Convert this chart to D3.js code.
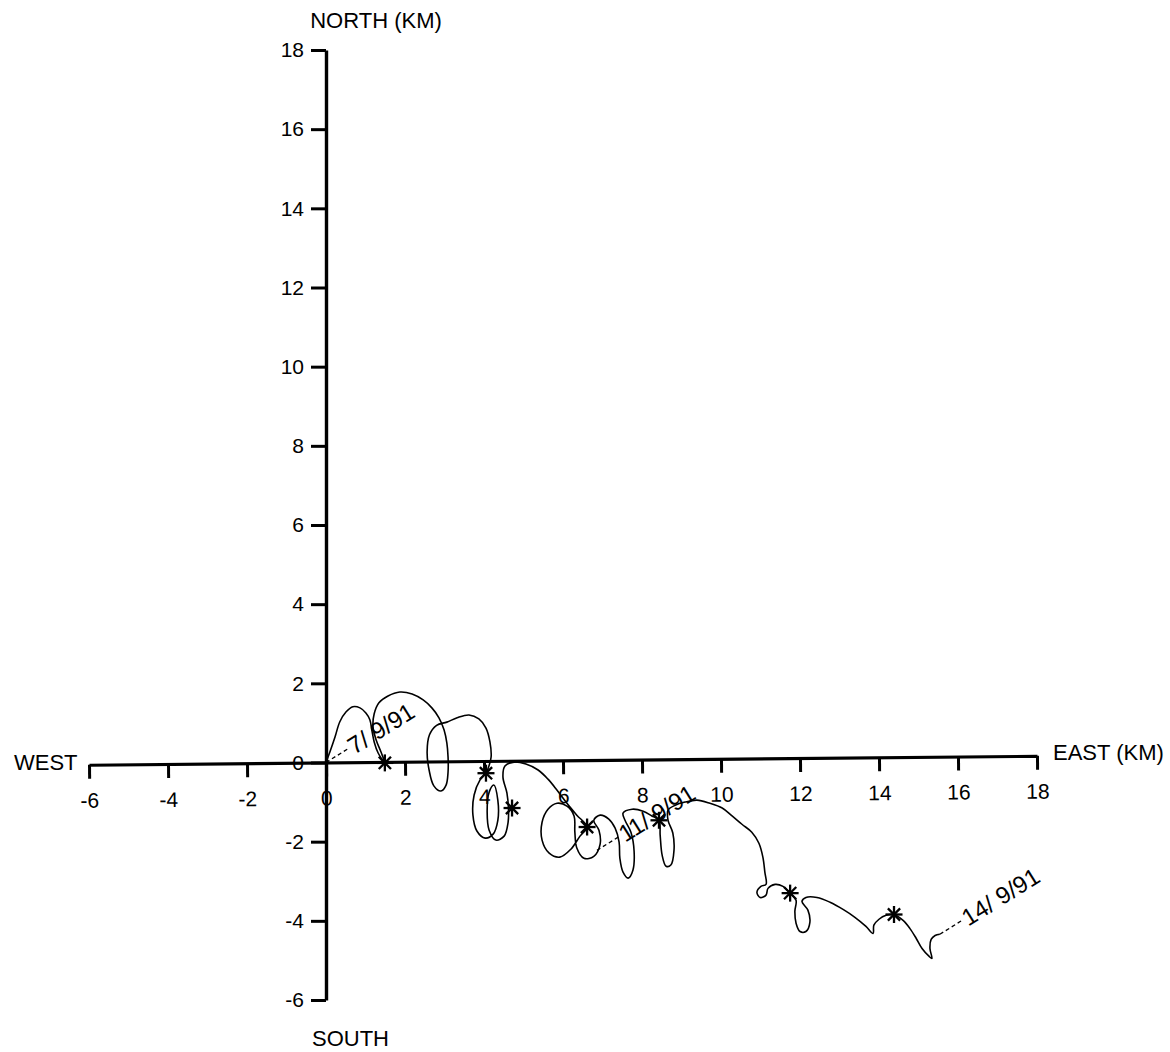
<!DOCTYPE html>
<html>
<head>
<meta charset="utf-8">
<script src="https://cdn.jsdelivr.net/npm/d3@7"></script>
<style>
  html, body { margin: 0; padding: 0; background: #fff; }
  svg { display: block; }
  text { font-family: "Liberation Sans", Arial, Helvetica, sans-serif; fill: #000; }
</style>
</head>
<body>
<svg id="chart" width="1170" height="1052"></svg>
<script>
// ---- data (km) ----
const xTicks = [-6, -4, -2, 0, 2, 4, 6, 8, 10, 12, 14, 16, 18];
const yTicks = [-6, -4, -2, 0, 2, 4, 6, 8, 10, 12, 14, 16, 18];

// drift track east (km) / north (km)
const trackEast = [
  0, 0.10, 0.23, 0.35, 0.51, 0.68, 0.86, 1.01, 1.11, 1.16, 1.22, 1.32, 1.49,
  1.39, 1.27, 1.19, 1.22, 1.34, 1.57, 1.87, 2.18, 2.46, 2.68, 2.86, 2.99, 3.06, 3.09, 3.09, 3.04, 2.91,
  2.73, 2.61, 2.56, 2.62, 2.80, 3.06, 3.32, 3.62, 3.87, 4.05, 4.15, 4.18, 4.10, 4.05,
  3.90, 3.75, 3.72, 3.82, 4.03, 4.23, 4.35, 4.35, 4.25, 4.13, 4.08, 4.13, 4.30, 4.51, 4.61, 4.62,
  4.58, 4.48, 4.53, 4.76, 5.06, 5.37, 5.62, 5.85, 6.10, 6.35, 6.61,
  6.43, 6.20, 5.92, 5.65, 5.47, 5.47, 5.62, 5.85, 6.10, 6.28, 6.30, 6.35, 6.53, 6.78, 6.94, 6.91, 6.78,
  6.94, 7.16, 7.32, 7.42, 7.44, 7.52, 7.65, 7.77, 7.80, 7.72, 7.57, 7.52, 7.75, 8.03, 8.25, 8.43,
  8.46, 8.51, 8.61, 8.73, 8.81, 8.78, 8.66, 8.66, 8.84, 9.09, 9.39, 9.72, 10.03, 10.28, 10.53, 10.78,
  10.96, 11.06, 11.11, 11.14, 11.01, 10.91, 10.99, 11.14, 11.19, 11.37, 11.57, 11.75,
  11.90, 11.87, 11.90, 12.00, 12.15, 12.25, 12.20, 12.05, 12.15, 12.43, 12.76, 13.09, 13.39, 13.67, 13.85,
  13.87, 14.00, 14.18, 14.38, 14.61, 14.78, 14.94, 15.09, 15.27, 15.34, 15.29, 15.32, 15.42, 15.54
];
const trackNorth = [
  0, 0.27, 0.65, 1.03, 1.28, 1.41, 1.38, 1.25, 1.08, 0.82, 0.52, 0.24, -0.01,
  0.27, 0.57, 0.90, 1.23, 1.51, 1.68, 1.78, 1.73, 1.58, 1.38, 1.13, 0.82, 0.49, 0.14, -0.24, -0.57, -0.72,
  -0.59, -0.19, 0.27, 0.70, 0.94, 1.02, 1.13, 1.20, 1.10, 0.87, 0.52, 0.14, -0.16, -0.27,
  -0.44, -0.82, -1.33, -1.73, -1.91, -1.81, -1.46, -0.95, -0.57, -0.75, -1.25, -1.71, -1.96, -1.86, -1.51, -1.17,
  -0.77, -0.37, -0.09, 0.01, -0.04, -0.19, -0.42, -0.70, -1.03, -1.33, -1.63,
  -1.86, -2.19, -2.39, -2.29, -1.96, -1.51, -1.18, -1.03, -1.10, -1.35, -1.76, -2.16, -2.42, -2.37, -2.06, -1.71, -1.46,
  -1.33, -1.43, -1.66, -2.01, -2.42, -2.77, -2.92, -2.72, -2.24, -1.76, -1.46, -1.28, -1.18, -1.23, -1.35, -1.46,
  -1.84, -2.34, -2.62, -2.59, -2.22, -1.78, -1.46, -1.20, -1.08, -1.00, -0.95, -1.03, -1.15, -1.35, -1.56, -1.76,
  -2.04, -2.39, -2.77, -3.08, -3.13, -3.28, -3.41, -3.35, -3.18, -3.08, -3.13, -3.30,
  -3.48, -3.76, -4.06, -4.27, -4.27, -4.04, -3.73, -3.51, -3.41, -3.41, -3.53, -3.71, -3.91, -4.14, -4.32,
  -4.11, -3.96, -3.86, -3.84, -3.99, -4.19, -4.44, -4.70, -4.90, -4.95, -4.70, -4.47, -4.37, -4.34
];

// daily markers (asterisks)
const markEast  = [1.49, 4.05, 4.71, 6.61, 8.43, 11.75, 14.38];
const markNorth = [-0.01, -0.27, -1.15, -1.63, -1.46, -3.30, -3.84];

// date labels and the track points they refer to
const dateLabels = ["7/ 9/91", "11/ 9/91", "14/ 9/91"];
const labelEast  = [0, 6.86, 15.54];
const labelNorth = [0, -2.22, -4.34];

// ---- drawing ----
const svg = d3.select("#chart");
svg.append("rect").attr("width", 1170).attr("height", 1052).attr("fill", "#fff");

const x = d3.scaleLinear().domain([-6, 18]).range([89, 1037]);
const y = d3.scaleLinear().domain([-6, 18]).range([1000, 50]);

const ox = x(0), oy = y(0);
const fmt = d => String(d);   // plain hyphen minus, as in the original

// X axis (slightly tilted, as in the original plot)
const gx = svg.append("g")
  .attr("transform", `rotate(-0.54, ${ox}, ${oy}) translate(0, ${oy})`)
  .call(d3.axisBottom(x).tickValues(xTicks).tickSize(14).tickSizeOuter(0).tickPadding(14)
        .tickFormat(fmt));
gx.select(".domain").attr("stroke-width", 3.2);
gx.selectAll(".tick line").attr("stroke-width", 3);
gx.selectAll(".tick text").attr("font-size", 21).attr("font-family", "Liberation Sans, Arial, sans-serif");

// Y axis
const gy = svg.append("g")
  .attr("transform", `translate(${ox}, 0)`)
  .call(d3.axisLeft(y).tickValues(yTicks).tickSize(15).tickSizeOuter(0).tickPadding(7)
        .tickFormat(fmt));
gy.select(".domain").attr("stroke-width", 3.4);
gy.selectAll(".tick line").attr("stroke-width", 3);
gy.selectAll(".tick text").attr("font-size", 21).attr("font-family", "Liberation Sans, Arial, sans-serif");

// axis titles
const titleFont = 22;
svg.append("text").attr("x", 376).attr("y", 28).attr("text-anchor", "middle")
  .attr("font-size", titleFont).text("NORTH (KM)");
svg.append("text").attr("x", 312).attr("y", 1046).attr("font-size", titleFont).text("SOUTH");
svg.append("text").attr("x", 14).attr("y", 770).attr("font-size", titleFont).text("WEST");
svg.append("text").attr("x", 1053).attr("y", 760).attr("font-size", titleFont).text("EAST (KM)");

// track
const track = trackEast.map((e, i) => [e, trackNorth[i]]);
svg.append("path")
  .datum(track)
  .attr("d", d3.line().x(d => x(d[0])).y(d => y(d[1])).curve(d3.curveCatmullRom.alpha(0.5)))
  .attr("fill", "none").attr("stroke", "#000").attr("stroke-width", 1.6)
  .attr("stroke-linejoin", "round");

// asterisks
const r = 8.5;
const marks = svg.append("g").selectAll("g").data(markEast.map((e, i) => [e, markNorth[i]]))
  .join("g").attr("transform", d => `translate(${x(d[0])}, ${y(d[1])})`);
[[0, -r, 0, r], [-r, 0, r, 0], [-r * 0.72, -r * 0.72, r * 0.72, r * 0.72], [-r * 0.72, r * 0.72, r * 0.72, -r * 0.72]]
  .forEach(s => {
    marks.append("line").attr("x1", s[0]).attr("y1", s[1]).attr("x2", s[2]).attr("y2", s[3])
      .attr("stroke", "#000").attr("stroke-width", 2.3);
  });

// date labels with dashed leaders
const ang = -32, lead = 26, rad = ang * Math.PI / 180;
dateLabels.forEach((t, i) => {
  const ax = x(labelEast[i]), ay = y(labelNorth[i]);
  const ex = ax + lead * Math.cos(rad), ey = ay + lead * Math.sin(rad);
  svg.append("line").attr("x1", ax).attr("y1", ay).attr("x2", ex).attr("y2", ey)
    .attr("stroke", "#000").attr("stroke-width", 1.3).attr("stroke-dasharray", "4,3");
  svg.append("text")
    .attr("transform", `translate(${ex + 2 * Math.cos(rad)}, ${ey + 2 * Math.sin(rad)}) rotate(${ang})`)
    .attr("dy", "0.36em").attr("font-size", 24).attr("xml:space", "preserve")
    .style("white-space", "pre").text(t);
});
</script>
</body>
</html>
